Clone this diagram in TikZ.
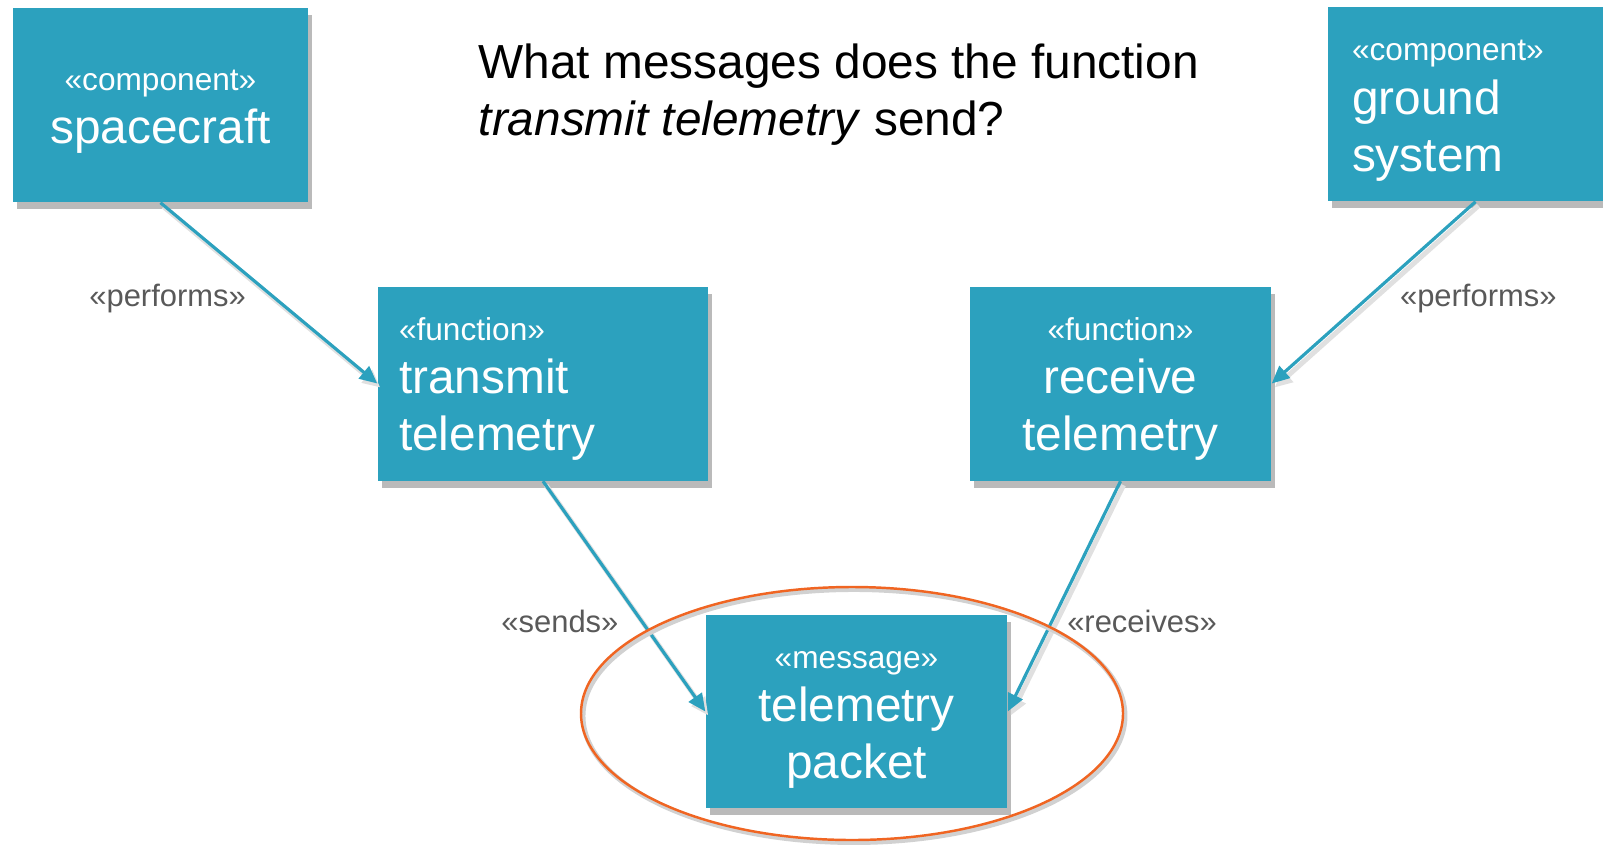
\documentclass[tikz,border=0pt]{standalone}
\usepackage{fontspec}
\setmainfont{Liberation Sans}
\usepackage{xcolor}
\usetikzlibrary{arrows.meta,positioning,shadows}

\definecolor{boxblue}{RGB}{44,161,190}
\definecolor{lblgray}{RGB}{89,89,89}
\definecolor{ringorange}{RGB}{240,101,34}
\newcommand{\bigtxt}{\fontsize{13.6}{16.2}\selectfont}
\newcommand{\stereo}[1]{{\fontsize{9}{10}\selectfont\rule{0pt}{9.6pt}«#1»}}

\begin{document}
\begin{tikzpicture}[
  blk/.style={rectangle, fill=boxblue, text=white, inner sep=0pt,
              minimum height=1.94cm, font=\bigtxt,
              drop shadow={shadow xshift=0.4mm, shadow yshift=-0.7mm,
                           fill=black!45, opacity=0.6}},
  lbl/.style={font=\fontsize{8.8}{10.5}\selectfont, color=lblgray, inner sep=0pt},
  conn/.style={draw=boxblue, line width=0.9pt,
               -{Triangle[length=5pt,width=4.5pt]},
               preaction={draw=black!12, line width=1.4pt,
                          transform canvas={xshift=0.3mm, yshift=-0.4mm}}},
  ttl/.style={font=\bigtxt, align=left, inner sep=0pt}
]
\useasboundingbox (0,0) rectangle (16.03,8.45);
\clip (0,0) rectangle (16.03,8.45);

% Question
\node[ttl, anchor=west] (q) at (4.78,7.505)
  {What messages does the function\\\textit{transmit telemetry} send?};

% Components
\node[blk, minimum width=2.95cm, align=center] (sc) at (1.605,7.40)
  {\stereo{component}\\[-1pt]spacecraft};
\node[blk, minimum width=2.95cm, text width=2.47cm, align=left] (gs) at (14.755,7.41)
  {\stereo{component}\\[-1pt]ground\\system};

% Functions
\node[blk, minimum width=3.30cm, text width=2.88cm, align=left] (tt) at (5.43,4.615)
  {\stereo{function}\\[-1pt]transmit\\telemetry};
\node[blk, minimum width=3.01cm, align=center] (rt) at (11.205,4.615)
  {\stereo{function}\\[-1pt]receive\\telemetry};

% Message
\node[blk, minimum width=3.01cm, minimum height=1.93cm, align=center] (tp) at (8.565,1.335)
  {\stereo{message}\\[-1pt]telemetry\\packet};

% Relations
\draw[conn] (sc.south) -- node[lbl, pos=0.53, left=2.8mm]{«performs»} (tt.west);
\draw[conn] (gs.south) -- node[lbl, pos=0.53, right=3.1mm]{«performs»} (rt.east);
\draw[conn] (tt.south) -- node[lbl, pos=0.61, left=2.2mm]{«sends»} (tp.west);
\draw[conn] (rt.south) -- node[lbl, pos=0.61, right=1.4mm]{«receives»} (tp.east);

% Highlight
\draw[black!18, line width=1.4pt] (8.54,1.29) ellipse (2.71cm and 1.265cm);
\draw[ringorange, line width=0.7pt] (8.52,1.315) ellipse (2.71cm and 1.265cm);
\end{tikzpicture}
\end{document}
